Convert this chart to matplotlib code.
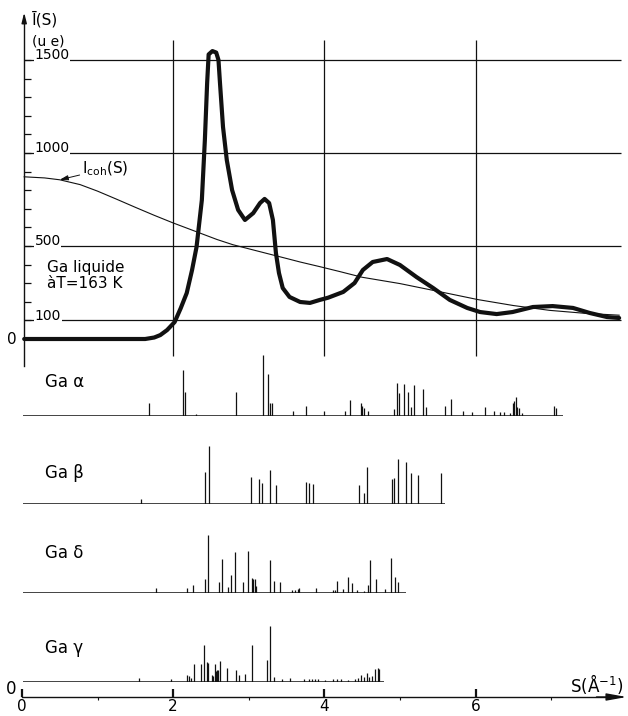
import matplotlib
matplotlib.use("Agg")
import matplotlib.pyplot as plt

# ---------------- data ----------------
# liquid Ga mean intensity I(S) (u.e.)
liq_s = [0.03, 1.63, 1.75, 1.83, 1.92, 2.02, 2.10, 2.18, 2.25, 2.31, 2.38, 2.42,
         2.45, 2.47, 2.52, 2.57, 2.60, 2.62, 2.66, 2.71, 2.78, 2.86, 2.95, 3.06,
         3.15, 3.21, 3.27, 3.32, 3.36, 3.40, 3.45, 3.54, 3.68, 3.81, 3.94, 4.05,
         4.25, 4.40, 4.51, 4.64, 4.83, 5.00, 5.22, 5.44, 5.66, 5.89, 6.06, 6.28,
         6.49, 6.76, 7.02, 7.29, 7.51, 7.74, 7.90]
liq_i = [0, 0, 8, 21, 48, 91, 165, 247, 370, 495, 747, 1070,
         1376, 1530, 1548, 1540, 1500, 1376, 1140, 962, 801, 694, 640, 677,
         731, 753, 731, 640, 462, 355, 274, 226, 199, 194, 210, 222,
         253, 301, 371, 414, 430, 398, 333, 274, 210, 167, 145, 134,
         145, 172, 177, 167, 140, 118, 113]

# coherent intensity I_coh(S)
coh_s = [0.03, 0.30, 0.50, 0.77, 1.00, 1.25, 1.50, 1.75, 2.00, 2.30, 2.58, 2.79,
         3.00, 3.24, 3.50, 3.68, 3.94, 4.20, 4.50, 5.00, 5.53, 6.03, 6.50, 6.98,
         7.45, 7.90]
coh_i = [872, 866, 856, 830, 795, 752, 708, 665, 624, 578, 535, 507,
         485, 460, 433, 414, 389, 363, 332, 298, 254, 212, 180, 154,
         138, 128]

# crystalline line patterns: positions S and relative intensities
alpha_s = [1.68, 2.13, 2.16, 2.30, 2.83, 3.19, 3.26, 3.28, 3.31, 3.59, 3.76, 3.99,
           4.28, 4.34, 4.48, 4.50, 4.53, 4.58, 4.92, 4.96, 4.99, 5.06, 5.11, 5.15,
           5.19, 5.31, 5.35, 5.60, 5.67, 5.84, 5.95, 6.13, 6.24, 6.33, 6.38, 6.45,
           6.49, 6.51, 6.53, 6.55, 6.57, 6.62, 7.04, 7.07]
alpha_i = [12.7, 46, 24, 2, 23.7, 61, 41.7, 13, 12.7, 5.3, 10, 5,
           5.3, 16, 12.7, 10, 7.7, 5, 7, 32.7, 22.7, 31.7, 23.7, 8.7,
           31, 26.7, 8.7, 10.3, 16.7, 5, 3.7, 9.3, 5, 3.7, 4, 3.3,
           13.3, 15, 18.7, 8.7, 8.3, 3.3, 10.3, 8.3]
alpha_end = 7.16

beta_s = [1.58, 2.42, 2.47, 3.03, 3.14, 3.17, 3.28, 3.36, 3.76, 3.80, 3.85,
          4.46, 4.53, 4.57, 4.89, 4.92, 4.98, 5.08, 5.15, 5.24, 5.55]
beta_i = [5, 31.7, 58, 26.7, 24.7, 21.3, 34, 18.7, 22.3, 20.7, 20.3,
          18.7, 10.7, 37.3, 24.7, 25.7, 45, 41.7, 30.7, 28.7, 30.7]
beta_end = 5.60

delta_s = [1.78, 2.19, 2.26, 2.42, 2.46, 2.61, 2.65, 2.72, 2.77, 2.82, 2.92, 2.99,
           3.04, 3.06, 3.08, 3.10, 3.28, 3.34, 3.41, 3.57, 3.61, 3.65, 3.67, 3.89,
           4.12, 4.14, 4.17, 4.25, 4.31, 4.37, 4.43, 4.52, 4.58, 4.61, 4.68, 4.80,
           4.88, 4.93, 4.97]
delta_i = [5.3, 5, 8, 14.3, 58.3, 10.7, 34, 6, 18.3, 40.7, 10.7, 41.7,
           14.7, 14.3, 14, 7.3, 33.3, 11.7, 11.3, 3.3, 3.3, 4.3, 5, 5,
           2.7, 2.7, 11.7, 4.3, 16, 10.3, 2.7, 2, 7.7, 32.7, 14, 4.3,
           35, 16, 11.3]
delta_end = 5.08

gamma_s = [1.55, 1.97, 2.19, 2.21, 2.23, 2.27, 2.37, 2.41, 2.45, 2.46, 2.51, 2.53,
           2.55, 2.57, 2.58, 2.60, 2.62, 2.71, 2.83, 2.87, 2.95, 3.04, 3.24, 3.28,
           3.33, 3.44, 3.54, 3.73, 3.80, 3.84, 3.88, 3.92, 4.01, 4.12, 4.17, 4.22,
           4.31, 4.40, 4.45, 4.49, 4.53, 4.56, 4.59, 4.63, 4.67, 4.71, 4.73]
gamma_i = [4, 2.7, 7.3, 5.7, 4.3, 17.7, 17.7, 37.3, 20, 19, 6.7, 5.7,
           18.3, 11, 12.3, 11.7, 20.7, 14, 12.3, 7.3, 7.7, 37.3, 22.3, 55.7,
           5, 3.3, 4.3, 2.7, 2.7, 2.7, 2.7, 2.7, 2, 3, 3, 3,
           2, 3, 4, 7, 5, 9, 5, 6, 13, 14, 13]
gamma_end = 4.79

y_grid = [100, 500, 1000, 1500]
y_grid_labels = ["100", "500", "1000", "1500"]
x_grid = [2, 4, 6]
x_major = [0, 2, 4, 6]
x_minor = [1, 3, 5, 7]

# ---------------- layout ----------------
W, H = 628, 716
XL = (-0.29, 8.0)
fig = plt.figure(figsize=(W / 100, H / 100), dpi=100)
plt.rcParams['font.family'] = ['DejaVu Sans']


def rect(top_px, bottom_px):
    return [0.0, 1 - bottom_px / H, 626.7 / W, (bottom_px - top_px) / H]


ink = '#111111'

# ---- top panel: liquid ----
ax = fig.add_axes(rect(4.2, 366.9))
ax.set_xlim(*XL)
ax.set_ylim(-150, 1800)
ax.patch.set_alpha(0)
for sp in ['top', 'right', 'bottom']:
    ax.spines[sp].set_visible(False)
ax.spines['left'].set_position(('data', 0.03))
ax.spines['left'].set_bounds(-145, 1700)
ax.spines['left'].set_linewidth(1.0)
ax.spines['left'].set_color(ink)
ax.set_xticks([])
ax.set_yticks(range(100, 1600, 100))
ax.tick_params(axis='y', direction='in', length=5, width=0.9, color=ink,
               labelleft=False)
ax.annotate('', xy=(0.03, 1770), xytext=(0.03, 1680),
            arrowprops=dict(arrowstyle='-|>,head_length=0.6,head_width=0.15',
                            color=ink, lw=1.0, mutation_scale=10))

ax.hlines(y_grid, 0.03, 7.93, color=ink, lw=0.9)
ax.vlines(x_grid, -91, 1607, color=ink, lw=0.9)

ax.plot(coh_s, coh_i, color=ink, lw=0.8)
ax.plot(liq_s, liq_i, color=ink, lw=3.0, solid_joinstyle='round',
        solid_capstyle='round')

for v, lab in zip(y_grid, y_grid_labels):
    ax.text(0.17, v + 4, lab, fontsize=10, ha='left', va='baseline',
            bbox=dict(facecolor='white', edgecolor='none', pad=0.3))
ax.text(-0.13, 0, "0", fontsize=11, ha='center', va='center')
ax.text(0.13, 1720, "Ī(S)", fontsize=11, ha='left', va='center')
ax.text(0.13, 1600, "(u e)", fontsize=10, ha='left', va='center')
ax.annotate(r"I$_{\rm coh}$(S)", xy=(0.50, 856), xytext=(0.80, 915),
            fontsize=11, ha='left', va='center',
            arrowprops=dict(arrowstyle='-|>,head_length=0.5,head_width=0.15',
                            color=ink, lw=0.7, mutation_scale=10,
                            shrinkA=0, shrinkB=0))
ax.text(0.33, 385, "Ga liquide", fontsize=11, ha='left', va='center')
ax.text(0.33, 300, "àT=163 K", fontsize=11, ha='left', va='center')

# ---- crystalline patterns ----
patterns = [
    ("Ga α", alpha_s, alpha_i, alpha_end, 416, 34),
    ("Ga β", beta_s, beta_i, beta_end, 504, 31),
    ("Ga δ", delta_s, delta_i, delta_end, 593, 40),
    ("Ga γ", gamma_s, gamma_i, gamma_end, 682, 34),
]
for name, s, inten, end, base, ly in patterns:
    a = fig.add_axes(rect(base - 70, base))
    a.set_xlim(*XL)
    a.set_ylim(0, 70)
    a.axis('off')
    a.patch.set_alpha(0)
    a.vlines(s, 0, inten, color=ink, lw=0.9)
    a.hlines(0, 0.02, end, color=ink, lw=1.1)
    a.text(0.30, ly, name, fontsize=12, ha='left', va='center')

# ---- bottom S axis ----
axb = fig.add_axes(rect(687, 697))
axb.set_xlim(*XL)
axb.set_ylim(0, 1)
axb.patch.set_alpha(0)
for sp in ['top', 'right', 'left']:
    axb.spines[sp].set_visible(False)
axb.spines['bottom'].set_bounds(0, 7.75)
axb.spines['bottom'].set_linewidth(1.0)
axb.spines['bottom'].set_color(ink)
axb.set_yticks([])
axb.set_xticks(x_major)
axb.set_xticklabels([str(v) for v in x_major], fontsize=11)
axb.set_xticks(x_minor, minor=True)
axb.tick_params(axis='x', which='major', direction='in', length=6, width=1.6,
                pad=1.5, color=ink)
axb.tick_params(axis='x', which='minor', direction='out', length=2.5, width=0.8,
                color=ink)
axb.annotate('', xy=(8.0, 0), xytext=(7.6, 0), xycoords='data',
             arrowprops=dict(arrowstyle='-|>,head_length=1.0,head_width=0.18',
                             color=ink, lw=1.0, mutation_scale=12,
                             shrinkA=0, shrinkB=0),
             annotation_clip=False)
fig.text(597 / W, 1 - 684 / H, "S(Å$^{-1}$)", fontsize=12, ha='center',
         va='center')
fig.text(11 / W, 1 - 689 / H, "0", fontsize=12, ha='center', va='center')

fig.savefig("out.png", dpi=100)
